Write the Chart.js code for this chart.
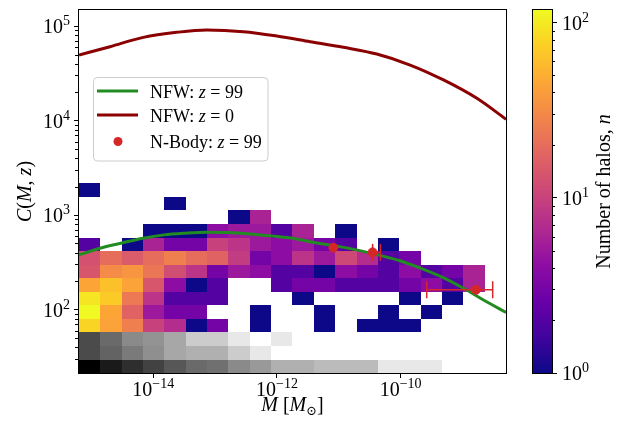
<!DOCTYPE html>
<html><head><meta charset="utf-8">
<script src="https://cdn.jsdelivr.net/npm/chart.js@4.4.0/dist/chart.umd.min.js"></script>
<style>
html,body{margin:0;padding:0;background:#fff;}
#wrap{position:relative;width:623px;height:428px;overflow:hidden;}
canvas{position:absolute;left:0;top:0;}
</style></head>
<body><div id="wrap"><canvas id="main" width="623" height="428"></canvas><canvas id="cbar" width="623" height="428"></canvas></div>
<script>
// ---------------- data ----------------
// histogram bin edges (log10 of mass in solar masses, log10 of concentration)
const massBinEdgesLog = [-15.202,-14.857,-14.511,-14.166,-13.821,-13.475,-13.130,-12.785,-12.440,-12.094,-11.749,-11.404,-11.058,-10.713,-10.368,-10.022,-9.677,-9.332,-8.987,-8.641,-8.296];
const concBinEdgesLog = [1.328,1.471,1.615,1.758,1.902,2.045,2.188,2.332,2.475,2.619,2.762,2.905,3.049,3.192,3.336];
// number of halos per cell, rows from lowest concentration bin upward
const haloCounts = [
  [0,0,0,0,0,0,0,0,0,0,0,0,0,0,0,0,0,0,0,0],
  [0,0,0,0,0,0,0,0,0,0,0,0,0,0,0,0,0,0,0,0],
  [0,0,0,0,0,0,0,0,0,0,0,0,0,0,0,0,0,0,0,0],
  [78,43,26,10,7,1,3,0,1,0,0,1,0,1,1,1,0,0,0,0],
  [118,45,17,5,3,3,0,0,1,0,0,1,0,0,1,0,1,0,0,0],
  [95,70,24,8,2,2,2,0,0,0,1,0,0,0,0,1,0,1,0,0],
  [45,63,43,14,4,1,2,0,0,2,3,3,2,2,2,3,4,2,6,0],
  [14,31,36,23,12,8,3,5,4,2,2,1,4,3,2,4,2,3,6,0],
  [13,20,15,20,26,20,17,9,3,4,8,5,11,7,2,3,0,0,0,0],
  [2,0,1,6,3,3,10,8,5,4,5,3,2,0,1,0,0,0,0,0],
  [0,0,0,1,1,1,4,5,5,2,6,0,1,0,0,0,0,0,0,0],
  [0,0,0,0,0,0,0,1,6,0,0,0,0,0,0,0,0,0,0,0],
  [0,0,0,0,1,0,0,0,0,0,0,0,0,0,0,0,0,0,0,0],
  [1,0,0,0,0,0,0,0,0,0,0,0,0,0,0,0,0,0,0,0]
];
// grey (lowest three concentration bins)
const greyCounts = [
  [300,158,97,59,35,22,19,10,7,4,4,3,3,3,1,1,1,0,0,0],
  [47,26,15,9,5,4,4,2,1,0,0,0,0,0,0,0,0,0,0,0],
  [47,22,10,8,5,2,2,1,0,1,0,0,0,0,0,0,0,0,0,0]
];
const countMax = 118;
const greyMax = 300;
// NFW curves
const nfw99LogMass = [-15.202,-14.863,-14.523,-14.167,-13.827,-13.487,-13.131,-12.791,-12.435,-12.095,-11.748,-11.405,-11.055,-10.715,-10.369,-10.024,-9.68,-9.329,-8.984,-8.638,-8.293];
const nfw99Conc = [379,446,504,569,617,643,659,654,632,602,569,513,472,428,379,330,274,220,168,124,93];
const nfw0LogMass = [-15.202,-14.701,-14.162,-13.621,-13.136,-12.544,-12.003,-11.464,-10.926,-10.385,-9.846,-9.307,-8.767,-8.293];
const nfw0Conc = [49400,60500,76000,85900,91000,87300,78500,68400,59600,50600,38700,26900,17200,10300];
// N-body points
const nbodyMass = [8.18e-12, 3.52e-11, 1.65e-9];
const nbodyConc = [452, 403, 162];
const nbodyMassLo = [null, 3.52e-11, 2.64e-10];
const nbodyMassHi = [null, 4.71e-11, 3.08e-9];
// axes
const yAxisRange = [21.3, 148000];
const xMajorTicks = [1e-14, 1e-12, 1e-10];
const yMajorTicks = [1e2, 1e3, 1e4, 1e5];
const cbarMajorTicks = [1, 10, 100];
const minorMultipliers = [2,3,4,5,6,7,8,9];

// ---------------- helpers ----------------
const SERIF = '"Liberation Serif","DejaVu Serif",serif';
function fnt(size, italic){ return (italic?'italic ':'') + size + 'px ' + SERIF; }
function drawRich(ctx, parts, x, y, align){
  let w = 0; const ws = [];
  for (const p of parts){ ctx.font = fnt(p.size, p.italic); const m = ctx.measureText(p.t).width; ws.push(m); w += m; }
  let cx = align==='center' ? x - w/2 : (align==='right' ? x - w : x);
  ctx.textAlign='left'; ctx.textBaseline='alphabetic';
  parts.forEach((p,i)=>{ ctx.font = fnt(p.size,p.italic); ctx.fillText(p.t, cx, y + (p.dy||0)); cx += ws[i]; });
}
function powParts(v){
  const e = Math.round(Math.log10(v));
  const s = e<0 ? '\u2212' + (-e) : '' + e;
  return [{t:'10', size:20}, {t:s, size:14, dy:-8}];
}
const plasmaStops = ['#0d0887','#41049d','#6a00a8','#8f0da4','#b12a90','#cc4778','#e16462','#f2844b','#fca636','#fcce25','#f0f921'];
function hex2rgb(h){ return [parseInt(h.slice(1,3),16),parseInt(h.slice(3,5),16),parseInt(h.slice(5,7),16)]; }
const plasmaRGB = plasmaStops.map(hex2rgb);
function plasma(t){
  t = Math.max(0, Math.min(1, t));
  const f = t*(plasmaRGB.length-1); const i = Math.min(Math.floor(f), plasmaRGB.length-2); const u = f - i;
  const a = plasmaRGB[i], b = plasmaRGB[i+1];
  return 'rgb(' + a.map((c,k)=>Math.round(c+(b[k]-c)*u)).join(',') + ')';
}
function greyColor(n){
  const L = Math.round(232*(1 - Math.log(n)/Math.log(greyMax)));
  return 'rgb(' + L + ',' + L + ',' + L + ')';
}
function tickList(majors, lo, hi){
  const out = [];
  majors.forEach(m => out.push({value:m, major:true}));
  const decades = majors.concat([majors[0]/10]);
  decades.forEach(d => minorMultipliers.forEach(k => { const v = k*d; if (v>=lo && v<=hi) out.push({value:v, major:false}); }));
  return out.sort((a,b)=>a.value-b.value);
}
function drawMinorTicks(ctx, scale, side, edge, len){
  ctx.save(); ctx.strokeStyle='#000'; ctx.lineWidth=1;
  scale.ticks.forEach(t => {
    if (t.major) return;
    const p = Math.round(scale.getPixelForValue(t.value)) + 0.5;
    ctx.beginPath();
    if (side==='left'){ ctx.moveTo(edge-len, p); ctx.lineTo(edge, p); }
    else { ctx.moveTo(edge, p); ctx.lineTo(edge+len, p); }
    ctx.stroke();
  });
  ctx.restore();
}

// ---------------- main chart plugins ----------------
const heatmapPlugin = {
  id:'heatmap',
  beforeDatasetsDraw(chart){
    const {ctx, chartArea:a, scales:{x, y}} = chart;
    ctx.save(); ctx.beginPath(); ctx.rect(a.left, a.top, a.width, a.height); ctx.clip();
    for (let r=0; r<haloCounts.length; r++){
      for (let c=0; c<massBinEdgesLog.length-1; c++){
        let col = null;
        const n = haloCounts[r][c];
        if (n>0) col = plasma(Math.log10(n)/Math.log10(countMax));
        else if (r<greyCounts.length && greyCounts[r][c]>0) col = greyColor(greyCounts[r][c]);
        if (!col) continue;
        const x0 = Math.round(x.getPixelForValue(10**massBinEdgesLog[c]));
        const x1 = Math.round(x.getPixelForValue(10**massBinEdgesLog[c+1]));
        const y0 = Math.round(y.getPixelForValue(10**concBinEdgesLog[r+1]));
        const y1 = Math.round(y.getPixelForValue(10**concBinEdgesLog[r]));
        ctx.fillStyle = col; ctx.fillRect(x0, y0, x1-x0, y1-y0);
      }
    }
    ctx.restore();
  }
};
const decorPlugin = {
  id:'decor',
  afterDraw(chart){
    const {ctx, chartArea:a, scales:{x, y}} = chart;
    ctx.save();
    // frame
    ctx.strokeStyle='#000'; ctx.lineWidth=1;
    ctx.strokeRect(Math.round(a.left)-0.5, Math.round(a.top)-0.5, Math.round(a.width)+1, Math.round(a.height)+1);
    drawMinorTicks(ctx, y, 'left', Math.round(a.left)-1, 3);
    ctx.fillStyle='#000';
    // tick labels
    x.ticks.forEach(t => { if (!t.major) return; drawRich(ctx, [{t:'10',size:20},{t:powParts(t.value)[1].t,size:14,dy:-8}], x.getPixelForValue(t.value), 396, 'center'); });
    y.ticks.forEach(t => { if (!t.major) return; drawRich(ctx, powParts(t.value), 70, y.getPixelForValue(t.value)+7, 'right'); });
    // axis titles
    drawRich(ctx, [{t:'M',size:20,italic:true},{t:' [',size:20},{t:'M',size:20,italic:true},{t:'\u2299',size:13,dy:4},{t:']',size:20}], (a.left+a.right)/2, 411, 'center');
    ctx.save(); ctx.translate(31, (a.top+a.bottom)/2); ctx.rotate(-Math.PI/2);
    drawRich(ctx, [{t:'C',size:20,italic:true},{t:'(',size:20},{t:'M',size:20,italic:true},{t:', ',size:20},{t:'z',size:20,italic:true},{t:')',size:20}], 0, 0, 'center');
    ctx.restore();
    // legend
    const L = {x:93, y:77, w:175, h:84, r:4};
    ctx.beginPath();
    ctx.moveTo(L.x+L.r, L.y+0.5); ctx.arcTo(L.x+L.w, L.y+0.5, L.x+L.w, L.y+L.h, L.r);
    ctx.arcTo(L.x+L.w, L.y+L.h, L.x, L.y+L.h, L.r); ctx.arcTo(L.x+0.5, L.y+L.h, L.x+0.5, L.y, L.r);
    ctx.arcTo(L.x+0.5, L.y+0.5, L.x+L.w, L.y+0.5, L.r); ctx.closePath();
    ctx.fillStyle='rgba(255,255,255,0.8)'; ctx.fill(); ctx.strokeStyle='#cccccc'; ctx.lineWidth=1; ctx.stroke();
    const entries = chart.data.datasets.filter(d => d.legendEntry).sort((p,q)=>p.legendEntry-q.legendEntry);
    const rowsY = [91, 115, 141.5];
    entries.forEach((d,i) => {
      const cy = rowsY[i];
      if (d.type==='line'){ ctx.strokeStyle=d.borderColor; ctx.lineWidth=3; ctx.beginPath(); ctx.moveTo(97,cy); ctx.lineTo(138,cy); ctx.stroke(); }
      else { ctx.fillStyle=d.backgroundColor; ctx.beginPath(); ctx.arc(118,cy,4.5,0,2*Math.PI); ctx.fill(); }
      ctx.fillStyle='#000';
      const parts = d.labelParts.map(p => ({t:p[0], italic:p[1], size:18}));
      drawRich(ctx, parts, 150, cy+6.5, 'left');
    });
    ctx.restore();
  }
};

// ---------------- datasets ----------------
const errorBarSets = [];
nbodyMass.forEach((m,i) => {
  if (nbodyMassLo[i]===null) return;
  errorBarSets.push({type:'line', data:[{x:nbodyMassLo[i], y:nbodyConc[i]},{x:nbodyMassHi[i], y:nbodyConc[i]}],
    borderColor:'#d62728', borderWidth:1.5, pointStyle:'line', pointRotation:90, pointRadius:8.5,
    pointBorderWidth:1.5, pointBorderColor:'#d62728', pointBackgroundColor:'#d62728', order:1});
});
const datasets = [
  {type:'scatter', label:'N-Body: z=99', legendEntry:3, labelParts:[['N-Body: ',false],['z',true],[' = 99',false]],
   data: nbodyMass.map((m,i)=>({x:m, y:nbodyConc[i]})), backgroundColor:'#d62728', borderColor:'#d62728', pointRadius:4.5, order:0},
  ...errorBarSets,
  {type:'line', label:'NFW: z=99', legendEntry:1, labelParts:[['NFW: ',false],['z',true],[' = 99',false]],
   data: nfw99LogMass.map((lm,i)=>({x:10**lm, y:nfw99Conc[i]})), borderColor:'#228b22', borderWidth:3, pointRadius:0,
   cubicInterpolationMode:'monotone', clip:0, order:2},
  {type:'line', label:'NFW: z=0', legendEntry:2, labelParts:[['NFW: ',false],['z',true],[' = 0',false]],
   data: nfw0LogMass.map((lm,i)=>({x:10**lm, y:nfw0Conc[i]})), borderColor:'#8b0000', borderWidth:3, pointRadius:0,
   cubicInterpolationMode:'monotone', clip:0, order:3}
];

const tickColorFn = c => (c.tick && c.tick.major) ? '#000' : 'rgba(0,0,0,0)';
new Chart(document.getElementById('main'), {
  type:'scatter',
  data:{datasets},
  options:{
    responsive:false, animation:false, events:[],
    layout:{padding:{left:74, right:117, top:10, bottom:50}},
    plugins:{legend:{display:false}, tooltip:{enabled:false}},
    scales:{
      x:{type:'logarithmic', min:10**massBinEdgesLog[0], max:10**massBinEdgesLog[massBinEdgesLog.length-1],
         afterBuildTicks:s=>{ s.ticks = xMajorTicks.map(v=>({value:v, major:true})); },
         ticks:{display:false}, border:{display:false},
         grid:{drawOnChartArea:false, drawTicks:true, tickLength:5, tickWidth:1, tickColor:tickColorFn}},
      y:{type:'logarithmic', min:yAxisRange[0], max:yAxisRange[1],
         afterBuildTicks:s=>{ s.ticks = tickList(yMajorTicks, yAxisRange[0], yAxisRange[1]); },
         ticks:{display:false}, border:{display:false},
         grid:{drawOnChartArea:false, drawTicks:true, tickLength:5, tickWidth:1, tickColor:tickColorFn}}
    }
  },
  plugins:[heatmapPlugin, decorPlugin]
});

// ---------------- colorbar ----------------
const cbarPlugin = {
  id:'cbar',
  beforeDatasetsDraw(chart){
    const {ctx, chartArea:a, scales:{y}} = chart;
    ctx.save();
    for (let py=Math.floor(a.top); py<Math.ceil(a.bottom); py++){
      const v = y.getValueForPixel(py+0.5);
      ctx.fillStyle = plasma(Math.log10(v)/Math.log10(countMax));
      ctx.fillRect(a.left, py, a.right-a.left, 1);
    }
    ctx.restore();
  },
  afterDraw(chart){
    const {ctx, chartArea:a, scales:{y}} = chart;
    ctx.save();
    ctx.strokeStyle='#000'; ctx.lineWidth=1;
    ctx.strokeRect(Math.round(a.left)-0.5, Math.round(a.top)-0.5, Math.round(a.width)+1, Math.round(a.height)+1);
    drawMinorTicks(ctx, y, 'right', Math.round(a.right), 3);
    ctx.fillStyle='#000';
    y.ticks.forEach(t => { if (!t.major) return; drawRich(ctx, powParts(t.value), 562, y.getPixelForValue(t.value)+7, 'left'); });
    ctx.translate(610, (a.top+a.bottom)/2); ctx.rotate(-Math.PI/2);
    drawRich(ctx, [{t:'Number of halos, ',size:20},{t:'n',size:20,italic:true}], 0, 0, 'center');
    ctx.restore();
  }
};
new Chart(document.getElementById('cbar'), {
  type:'scatter',
  data:{datasets:[]},
  options:{
    responsive:false, animation:false, events:[],
    layout:{padding:{left:533, right:66, top:10, bottom:55}},
    plugins:{legend:{display:false}, tooltip:{enabled:false}},
    scales:{
      x:{display:false, min:0, max:1},
      y:{type:'logarithmic', position:'right', min:1, max:countMax,
         afterBuildTicks:s=>{ s.ticks = tickList(cbarMajorTicks, 1, countMax); },
         ticks:{display:false}, border:{display:false},
         grid:{drawOnChartArea:false, drawTicks:true, tickLength:5, tickWidth:1, tickColor:tickColorFn}}
    }
  },
  plugins:[cbarPlugin]
});
</script></body></html>
